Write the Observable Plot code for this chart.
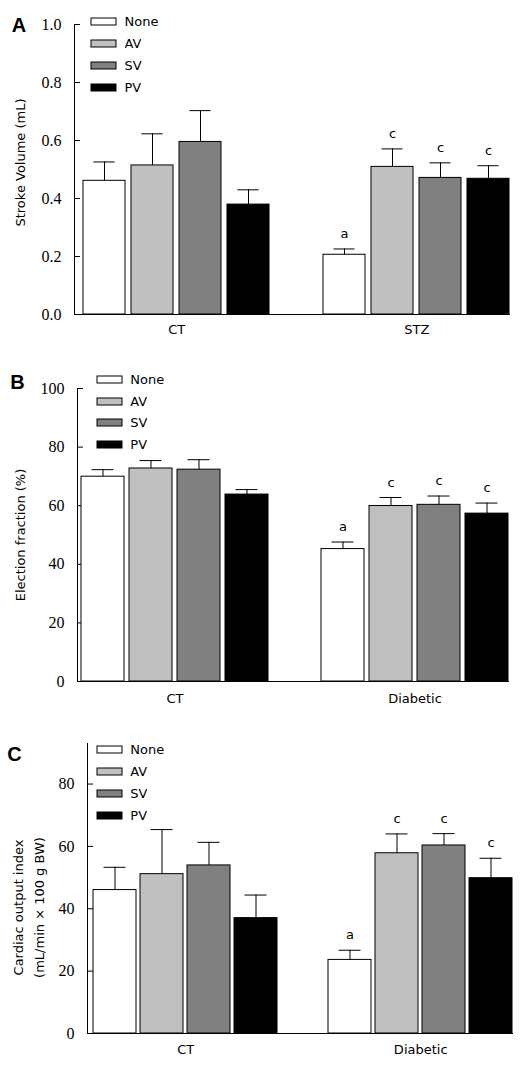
<!DOCTYPE html>
<html><head><meta charset="utf-8">
<script src="https://cdn.jsdelivr.net/npm/d3@7"></script>
<script src="https://cdn.jsdelivr.net/npm/@observablehq/plot@0.6"></script>
<style>
body{margin:0;background:#fff;}
#wrap{position:relative;width:522px;height:1071px;overflow:hidden;background:#fff;}
.panel{position:absolute;left:0;width:522px;}
.panel svg{display:block;}
.panel svg g[aria-label="y-axis tick label"], .panel svg g[aria-label="y-axis tick label"] text{font-family:"Liberation Serif","Times New Roman",serif !important;font-size:16px !important;}
.letter{position:absolute;font-family:"Liberation Sans",Arial,sans-serif;font-weight:bold;font-size:20px;line-height:20px;color:#000;}
.leg{position:absolute;}
.leg > div{font-family:"DejaVu Sans",sans-serif;font-size:13px;margin:0;color:#000;}
.leg [class$="-swatch"]{height:21.9px;padding:0;display:flex;align-items:center;}
.leg [class$="-swatch"] > svg{margin-right:8.5px;overflow:visible;}
.leg rect{stroke:#000;stroke-width:1px;}
</style></head><body><div id="wrap"></div><script>
// ---- data ----
const treatments = ["None", "AV", "SV", "PV"];
const fills = ["#ffffff", "#c0c0c0", "#808080", "#000000"];

const groupsA = ["CT", "STZ"];
const strokeVolume    = [0.461, 0.514, 0.595, 0.379, 0.206, 0.509, 0.471, 0.468];
const strokeVolumeErr = [0.065, 0.109, 0.108, 0.051, 0.020, 0.062, 0.052, 0.045];
const lettersA = ["", "", "", "", "a", "c", "c", "c"];
const ticksA = [0, 0.2, 0.4, 0.6, 0.8, 1.0];

const groupsB = ["CT", "Diabetic"];
const ejection    = [69.9, 72.7, 72.3, 63.8, 45.2, 59.9, 60.3, 57.3];
const ejectionErr = [2.4, 2.7, 3.4, 1.7, 2.4, 2.9, 3.0, 3.6];
const lettersB = ["", "", "", "", "a", "c", "c", "c"];
const ticksB = [0, 20, 40, 60, 80, 100];

const groupsC = ["CT", "Diabetic"];
const cardiac    = [46.0, 51.1, 53.9, 37.0, 23.6, 57.8, 60.3, 49.8];
const cardiacErr = [7.3, 14.3, 7.4, 7.4, 3.1, 6.2, 3.8, 6.4];
const lettersC = ["", "", "", "", "a", "c", "c", "c"];
const ticksC = [0, 20, 40, 60, 80];

// ---- helpers ----
function buildRows(groups, values, errs, letters) {
  const rows = [];
  groups.forEach((g, gi) => treatments.forEach((t, ti) => {
    const i = gi * treatments.length + ti;
    rows.push({group: g, treatment: t, key: g + "|" + t, value: values[i], top: values[i] + errs[i], letter: letters[i]});
  }));
  return rows;
}
function xDomain(groups) {
  return [...treatments.map(t => groups[0] + "|" + t), " ", ...treatments.map(t => groups[1] + "|" + t)];
}

const W = 522;
const wrap = document.getElementById("wrap");

function panel(cfg) {
  const rows = buildRows(cfg.groups, cfg.values, cfg.errs, cfg.letters);
  const dom = xDomain(cfg.groups);
  const band = d3.scaleBand().domain(dom).range([cfg.ml, W - cfg.mr])
    .paddingInner(cfg.pi).paddingOuter(cfg.po).align(1);
  const half = band.step() / 2;
  const svg = Plot.plot({
    width: W, height: cfg.height,
    marginLeft: cfg.ml, marginRight: cfg.mr, marginTop: cfg.mt, marginBottom: cfg.mb,
    style: {fontFamily: "DejaVu Sans", fontSize: "13px", background: "white", color: "black", overflow: "visible"},
    x: {domain: dom, paddingInner: cfg.pi, paddingOuter: cfg.po, align: 1, axis: null},
    y: {domain: cfg.yDomain},
    color: {type: "ordinal", domain: treatments, range: fills},
    marks: [
      Plot.axisY(cfg.ticks, {anchor: "left", tickSize: -6, fill: "none", label: null}),
      Plot.axisY(cfg.ticks, {anchor: "left", tickSize: 0, tickPadding: 13, tickFormat: cfg.fmt,
        fontFamily: "Liberation Serif", fontSize: 16, label: null}),
      Plot.barY(rows, {x: "key", y1: 0, y2: "value", fill: "treatment", stroke: "black", strokeWidth: 1}),
      Plot.ruleX(rows, {x: "key", y1: "value", y2: "top", stroke: "black", strokeWidth: 1}),
      Plot.tickY(rows, {x: "key", y: "top", stroke: "black", strokeWidth: 1, insetLeft: 10.5, insetRight: 10.5}),
      Plot.text(rows.filter(d => d.letter), {x: "key", y: "top", text: "letter", dy: -15, fontSize: 13}),
      Plot.frame({anchor: "left"}),
      Plot.frame({anchor: "bottom"}),
      Plot.text(cfg.groups, {x: g => g + "|AV", text: d => d, frameAnchor: "bottom", dy: cfg.groupDy, dx: half, fontSize: 13}),
      Plot.text([cfg.ylabel], {text: d => d, frameAnchor: "left", textAnchor: "middle", lineAnchor: "middle",
        rotate: -90, dx: cfg.ldx, dy: cfg.ldy, lineHeight: 1.6, fontSize: 13})
    ]
  });
  const div = document.createElement("div");
  div.className = "panel";
  div.style.top = cfg.top + "px";
  div.style.height = cfg.height + "px";
  div.appendChild(svg);

  const leg = Plot.legend({
    color: {type: "ordinal", domain: treatments, range: fills},
    legend: "swatches", columns: 1, swatchWidth: 25, swatchHeight: 7
  });
  const legDiv = document.createElement("div");
  legDiv.className = "leg";
  legDiv.style.left = cfg.legLeft + "px";
  legDiv.style.top = cfg.legTop + "px";
  legDiv.appendChild(leg);
  div.appendChild(legDiv);
  div.querySelectorAll('.leg [class$="-swatch"]').forEach(el => el.style.height = cfg.legRow + "px");

  const letter = document.createElement("div");
  letter.className = "letter";
  letter.textContent = cfg.panelLetter;
  letter.style.left = cfg.letterLeft + "px";
  letter.style.top = cfg.letterTop + "px";
  div.appendChild(letter);
  wrap.appendChild(div);
}

panel({
  top: 0, height: 350, ml: 74, mr: 13, mt: 24, mb: 36, pi: 0.115, po: 0.033,
  groups: groupsA, values: strokeVolume, errs: strokeVolumeErr, letters: lettersA,
  yDomain: [0, 1], ticks: ticksA, fmt: d3.format(".1f"),
  groupDy: 19, ylabel: "Stroke Volume (mL)", ldx: -56, ldy: -7,
  legLeft: 91, legTop: 10.8, legRow: 21.9,
  panelLetter: "A", letterLeft: 11.7, letterTop: 14.7
});
panel({
  top: 350, height: 360, ml: 77, mr: 14, mt: 38, mb: 29, pi: 0.111, po: 0.0415,
  groups: groupsB, values: ejection, errs: ejectionErr, letters: lettersB,
  yDomain: [0, 100], ticks: ticksB, fmt: d3.format("d"),
  groupDy: 21, ylabel: "Election fraction (%)", ldx: -59, ldy: 0,
  legLeft: 96.8, legTop: 19, legRow: 21.6,
  panelLetter: "B", letterLeft: 10.2, letterTop: 22.4
});
panel({
  top: 710, height: 361, ml: 87, mr: 10, mt: 33, mb: 38, pi: 0.093, po: 0.027,
  groups: groupsC, values: cardiac, errs: cardiacErr, letters: lettersC,
  yDomain: [0, 93], ticks: ticksC, fmt: d3.format("d"),
  groupDy: 20, ylabel: "Cardiac output index\n(mL/min \u00d7 100 g BW)", ldx: -60.5, ldy: 19,
  legLeft: 96.8, legTop: 29, legRow: 21.9,
  panelLetter: "C", letterLeft: 7.3, letterTop: 34
});
</script></body></html>
